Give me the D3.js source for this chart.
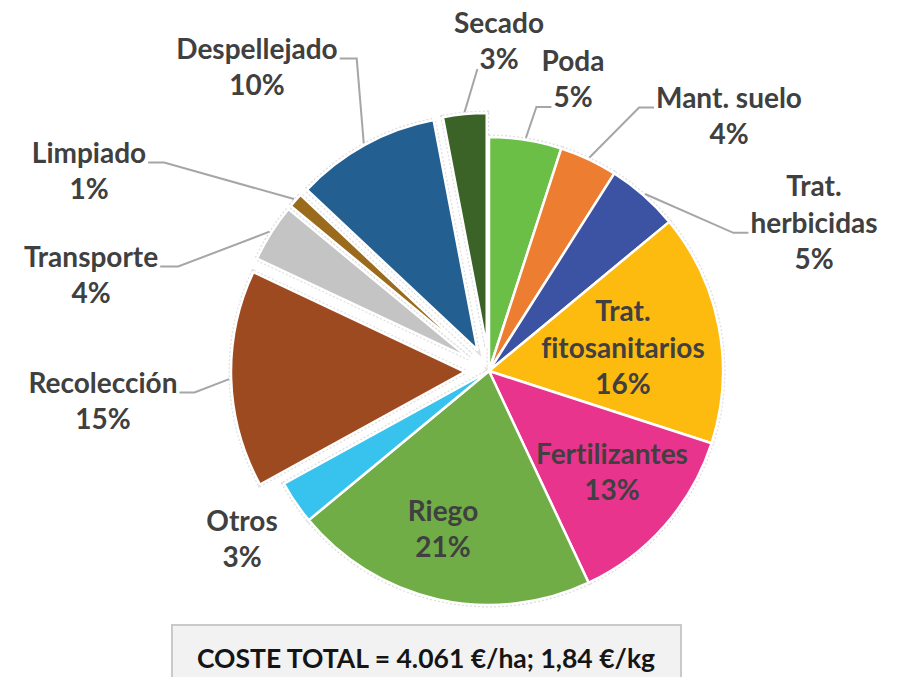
<!DOCTYPE html>
<html>
<head>
<meta charset="utf-8">
<script src="https://cdn.jsdelivr.net/npm/d3@7/dist/d3.min.js"></script>
<style>
  body { margin: 0; background: #fff; }
  text { font-family: Lato, "Noto Sans", sans-serif; font-weight: 700; font-variant-ligatures: none; }
</style>
</head>
<body>
<svg id="chart" width="901" height="677"></svg>
<script>
// data: coste por partida, % del total (sentido horario desde las 12)
var categories = ["Poda", "Mant. suelo", "Trat. herbicidas", "Trat. fitosanitarios", "Fertilizantes",
  "Riego", "Otros", "Recolección", "Transporte", "Limpiado", "Despellejado", "Secado"];
var shares = [5, 4, 5, 16, 13, 21, 3, 15, 4, 1, 10, 3];
var labelLines = [["Poda"], ["Mant. suelo"], ["Trat.", "herbicidas"], ["Trat.", "fitosanitarios"], ["Fertilizantes"],
  ["Riego"], ["Otros"], ["Recolección"], ["Transporte"], ["Limpiado"], ["Despellejado"], ["Secado"]];
var explodedCats = ["Recolección", "Transporte", "Limpiado", "Despellejado", "Secado"];
var colors = ["#6bbf47", "#ed7d31", "#3c53a4", "#fdbb10", "#e9348e", "#70ad47",
  "#38c3ee", "#9e4a20", "#c4c4c4", "#9a6b1c", "#245f92", "#3b6328"];
var totalText = "COSTE TOTAL = 4.061 €/ha; 1,84 €/kg";

// layout of the labels (offset of the text block centre from the pie centre)
// side: which side the leader arrives on, line: which text line it hooks to, inside: no leader
var labelAt = {
  "Poda":                 {dx: 84,   dy: -292, side: "left",  line: 1, elbow: 15},
  "Mant. suelo":          {dx: 240,  dy: -255, side: "left",  line: 0, elbow: 15},
  "Trat. herbicidas":     {dx: 325,  dy: -148, side: "left",  line: 1, elbow: 15},
  "Trat. fitosanitarios": {dx: 134,  dy: -23,  inside: true},
  "Fertilizantes":        {dx: 123,  dy: 101,  inside: true},
  "Riego":                {dx: -46,  dy: 158,  inside: true},
  "Otros":                {dx: -247, dy: 168,  inside: true},
  "Recolección":          {dx: -386, dy: 30,   side: "right", line: 0, elbow: 15},
  "Transporte":           {dx: -398, dy: -96,  side: "right", line: 0, elbow: 18},
  "Limpiado":             {dx: -400, dy: -200, side: "right", line: 0, elbow: 16},
  "Despellejado":         {dx: -232, dy: -304, side: "right", line: 0, elbow: 17},
  "Secado":               {dx: 10,   dy: -330, side: "left",  line: 1, elbow: 0}
};

var width = 901, height = 677;
var cx = 489, cy = 371, radius = 234, explode = 24, lineGap = 36.5;
var fontSize = 28;

var svg = d3.select("#chart");
svg.append("rect").attr("width", width).attr("height", height).attr("fill", "#fff");

var total = d3.sum(shares);
var pct = d3.format(".0%");

var pie = d3.pie().sort(null).value(function(d) { return d; });
var arcs = pie(shares);
var arc = d3.arc().innerRadius(0).outerRadius(radius);

function offsetOf(d) {
  if (explodedCats.indexOf(categories[d.index]) < 0) return [0, 0];
  var a = (d.startAngle + d.endAngle) / 2;
  return [Math.sin(a) * explode, -Math.cos(a) * explode];
}

var g = svg.append("g").attr("transform", "translate(" + cx + "," + cy + ")");

// faint dotted halo round each slice
g.selectAll(".halo")
    .data(arcs)
  .enter().append("path")
    .attr("class", "halo")
    .attr("transform", function(d) { return "translate(" + offsetOf(d) + ")"; })
    .attr("d", arc)
    .attr("fill", "none")
    .attr("stroke", "#e0e0e0")
    .attr("stroke-width", 5)
    .attr("stroke-dasharray", "2 2");

g.selectAll(".slice")
    .data(arcs)
  .enter().append("path")
    .attr("class", "slice")
    .attr("transform", function(d) { return "translate(" + offsetOf(d) + ")"; })
    .attr("d", arc)
    .attr("fill", function(d) { return colors[d.index]; })
    .attr("stroke", "#fff")
    .attr("stroke-width", 2.5)
    .attr("stroke-linejoin", "round");

// labels
var labels = g.selectAll(".lbl")
    .data(arcs)
  .enter().append("text")
    .attr("class", "lbl")
    .attr("text-anchor", "middle")
    .attr("fill", "#404040")
    .style("font-size", fontSize + "px");

labels.each(function(d) {
  var pos = labelAt[categories[d.index]];
  var lines = labelLines[d.index].concat([pct(d.value / total)]);
  var top = pos.dy - (lines.length - 1) * lineGap / 2;
  var t = d3.select(this);
  lines.forEach(function(s, k) {
    t.append("tspan")
      .attr("x", pos.dx)
      .attr("y", top + k * lineGap)
      .attr("dy", "0.35em")
      .text(s);
  });
});

// leader lines
labels.each(function(d) {
  var pos = labelAt[categories[d.index]];
  if (pos.inside) return;
  var box = d3.select(this).selectAll("tspan").nodes()[pos.line].getBBox();
  var ay = box.y + box.height - 6;
  var ax = pos.side === "left" ? box.x - 2 : box.x + box.width + 2;
  var ex = pos.side === "left" ? ax - pos.elbow : ax + pos.elbow;
  var off = offsetOf(d);
  var a = (d.startAngle + d.endAngle) / 2;
  var sx = off[0] + Math.sin(a) * (radius + 2);
  var sy = off[1] - Math.cos(a) * (radius + 2);
  g.insert("polyline", ".lbl")
    .attr("points", [[sx, sy], [ex, ay], [ax, ay]].join(" "))
    .attr("fill", "none")
    .attr("stroke", "#a6a6a6")
    .attr("stroke-width", 2);
});

// total box
svg.append("rect")
    .attr("x", 172).attr("y", 625)
    .attr("width", 509).attr("height", 70)
    .attr("fill", "#f2f2f2")
    .attr("stroke", "#c9c9c9")
    .attr("stroke-width", 2);

svg.append("text")
    .attr("x", 426).attr("y", 668)
    .attr("text-anchor", "middle")
    .attr("fill", "#151515")
    .style("font-size", "26.5px")
    .text(totalText);
</script>
</body>
</html>
